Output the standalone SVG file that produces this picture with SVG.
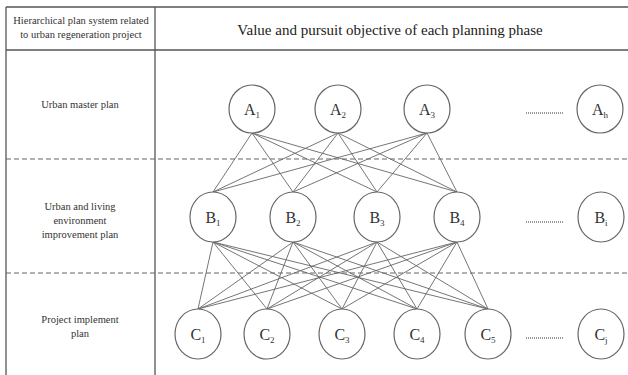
<svg xmlns="http://www.w3.org/2000/svg" width="628" height="375" viewBox="0 0 628 375">
<style>
.frame{stroke:#555;stroke-width:1.3;fill:none}
.dash{stroke:#666;stroke-width:1.2;stroke-dasharray:5,3;fill:none}
.node{fill:#fff;stroke:#666;stroke-width:1.2}
.lbl{font-family:"Liberation Serif","Times New Roman",serif;font-size:16px;fill:#333;text-anchor:middle}
.sub{font-size:9px}
.row{font-family:"Liberation Serif","Times New Roman",serif;font-size:10.5px;fill:#333;text-anchor:middle}
.hdr{font-family:"Liberation Serif","Times New Roman",serif;font-size:15px;fill:#222;text-anchor:middle}
.dots{stroke:#333;stroke-width:1.2;stroke-dasharray:1,1}
#connectors line{stroke:#666;stroke-width:0.9}
</style>
<rect width="628" height="375" fill="#fff"/>
<g id="table">
<line class="frame" x1="6" y1="7" x2="628" y2="7"/>
<line class="frame" x1="6" y1="7" x2="6" y2="375"/>
<line class="frame" x1="155" y1="7" x2="155" y2="375"/>
<line class="frame" x1="6" y1="50" x2="628" y2="50"/>
<line class="dash" x1="6" y1="159" x2="628" y2="159"/>
<line class="dash" x1="6" y1="273" x2="628" y2="273"/>
<text class="row" x="81" y="24">Hierarchical plan system related</text>
<text class="row" x="81" y="38">to urban regeneration project</text>
<text class="hdr" x="390" y="35">Value and pursuit objective of each planning phase</text>
<text class="row" x="80" y="108">Urban master plan</text>
<text class="row" x="80" y="210">Urban and living</text>
<text class="row" x="80" y="224">environment</text>
<text class="row" x="80" y="238">improvement plan</text>
<text class="row" x="80" y="323">Project implement</text>
<text class="row" x="80" y="337">plan</text>
</g>
<g id="connectors">
<line x1="252" y1="133" x2="213" y2="192"/><line x1="252" y1="133" x2="293" y2="192"/><line x1="252" y1="133" x2="377" y2="192"/><line x1="252" y1="133" x2="457" y2="192"/>
<line x1="338" y1="133" x2="213" y2="192"/><line x1="338" y1="133" x2="293" y2="192"/><line x1="338" y1="133" x2="377" y2="192"/><line x1="338" y1="133" x2="457" y2="192"/>
<line x1="427" y1="133" x2="213" y2="192"/><line x1="427" y1="133" x2="293" y2="192"/><line x1="427" y1="133" x2="377" y2="192"/><line x1="427" y1="133" x2="457" y2="192"/>
<line x1="213" y1="242" x2="198" y2="309"/><line x1="213" y1="242" x2="267" y2="309"/><line x1="213" y1="242" x2="342" y2="309"/><line x1="213" y1="242" x2="417" y2="309"/><line x1="213" y1="242" x2="488" y2="309"/>
<line x1="293" y1="242" x2="198" y2="309"/><line x1="293" y1="242" x2="267" y2="309"/><line x1="293" y1="242" x2="342" y2="309"/><line x1="293" y1="242" x2="417" y2="309"/><line x1="293" y1="242" x2="488" y2="309"/>
<line x1="377" y1="242" x2="198" y2="309"/><line x1="377" y1="242" x2="267" y2="309"/><line x1="377" y1="242" x2="342" y2="309"/><line x1="377" y1="242" x2="417" y2="309"/><line x1="377" y1="242" x2="488" y2="309"/>
<line x1="457" y1="242" x2="198" y2="309"/><line x1="457" y1="242" x2="267" y2="309"/><line x1="457" y1="242" x2="342" y2="309"/><line x1="457" y1="242" x2="417" y2="309"/><line x1="457" y1="242" x2="488" y2="309"/>
</g>
<g id="A1"><ellipse class="node" cx="252" cy="109" rx="23" ry="24"/><text class="lbl" x="252" y="115">A<tspan class="sub" dy="3">1</tspan></text></g>
<g id="A2"><ellipse class="node" cx="338" cy="109" rx="23" ry="24"/><text class="lbl" x="338" y="115">A<tspan class="sub" dy="3">2</tspan></text></g>
<g id="A3"><ellipse class="node" cx="427" cy="109" rx="23" ry="24"/><text class="lbl" x="427" y="115">A<tspan class="sub" dy="3">3</tspan></text></g>
<g id="Ah"><ellipse class="node" cx="600" cy="109" rx="23" ry="24"/><text class="lbl" x="600" y="115">A<tspan class="sub" dy="3">h</tspan></text></g>
<line class="dots" x1="526" y1="113" x2="564" y2="113"/>
<g id="B1"><ellipse class="node" cx="213" cy="217" rx="23" ry="25"/><text class="lbl" x="213" y="223">B<tspan class="sub" dy="3">1</tspan></text></g>
<g id="B2"><ellipse class="node" cx="293" cy="217" rx="23" ry="25"/><text class="lbl" x="293" y="223">B<tspan class="sub" dy="3">2</tspan></text></g>
<g id="B3"><ellipse class="node" cx="377" cy="217" rx="23" ry="25"/><text class="lbl" x="377" y="223">B<tspan class="sub" dy="3">3</tspan></text></g>
<g id="B4"><ellipse class="node" cx="457" cy="217" rx="23" ry="25"/><text class="lbl" x="457" y="223">B<tspan class="sub" dy="3">4</tspan></text></g>
<g id="Bi"><ellipse class="node" cx="601" cy="217" rx="23" ry="25"/><text class="lbl" x="601" y="223">B<tspan class="sub" dy="3">i</tspan></text></g>
<line class="dots" x1="526" y1="222" x2="564" y2="222"/>
<g id="C1"><ellipse class="node" cx="198" cy="334" rx="23" ry="25"/><text class="lbl" x="198" y="340">C<tspan class="sub" dy="3">1</tspan></text></g>
<g id="C2"><ellipse class="node" cx="267" cy="334" rx="23" ry="25"/><text class="lbl" x="267" y="340">C<tspan class="sub" dy="3">2</tspan></text></g>
<g id="C3"><ellipse class="node" cx="342" cy="334" rx="23" ry="25"/><text class="lbl" x="342" y="340">C<tspan class="sub" dy="3">3</tspan></text></g>
<g id="C4"><ellipse class="node" cx="417" cy="334" rx="23" ry="25"/><text class="lbl" x="417" y="340">C<tspan class="sub" dy="3">4</tspan></text></g>
<g id="C5"><ellipse class="node" cx="488" cy="334" rx="23" ry="25"/><text class="lbl" x="488" y="340">C<tspan class="sub" dy="3">5</tspan></text></g>
<g id="Cj"><ellipse class="node" cx="601" cy="334" rx="23" ry="25"/><text class="lbl" x="601" y="340">C<tspan class="sub" dy="3">j</tspan></text></g>
<line class="dots" x1="526" y1="338" x2="564" y2="338"/>
</svg>
